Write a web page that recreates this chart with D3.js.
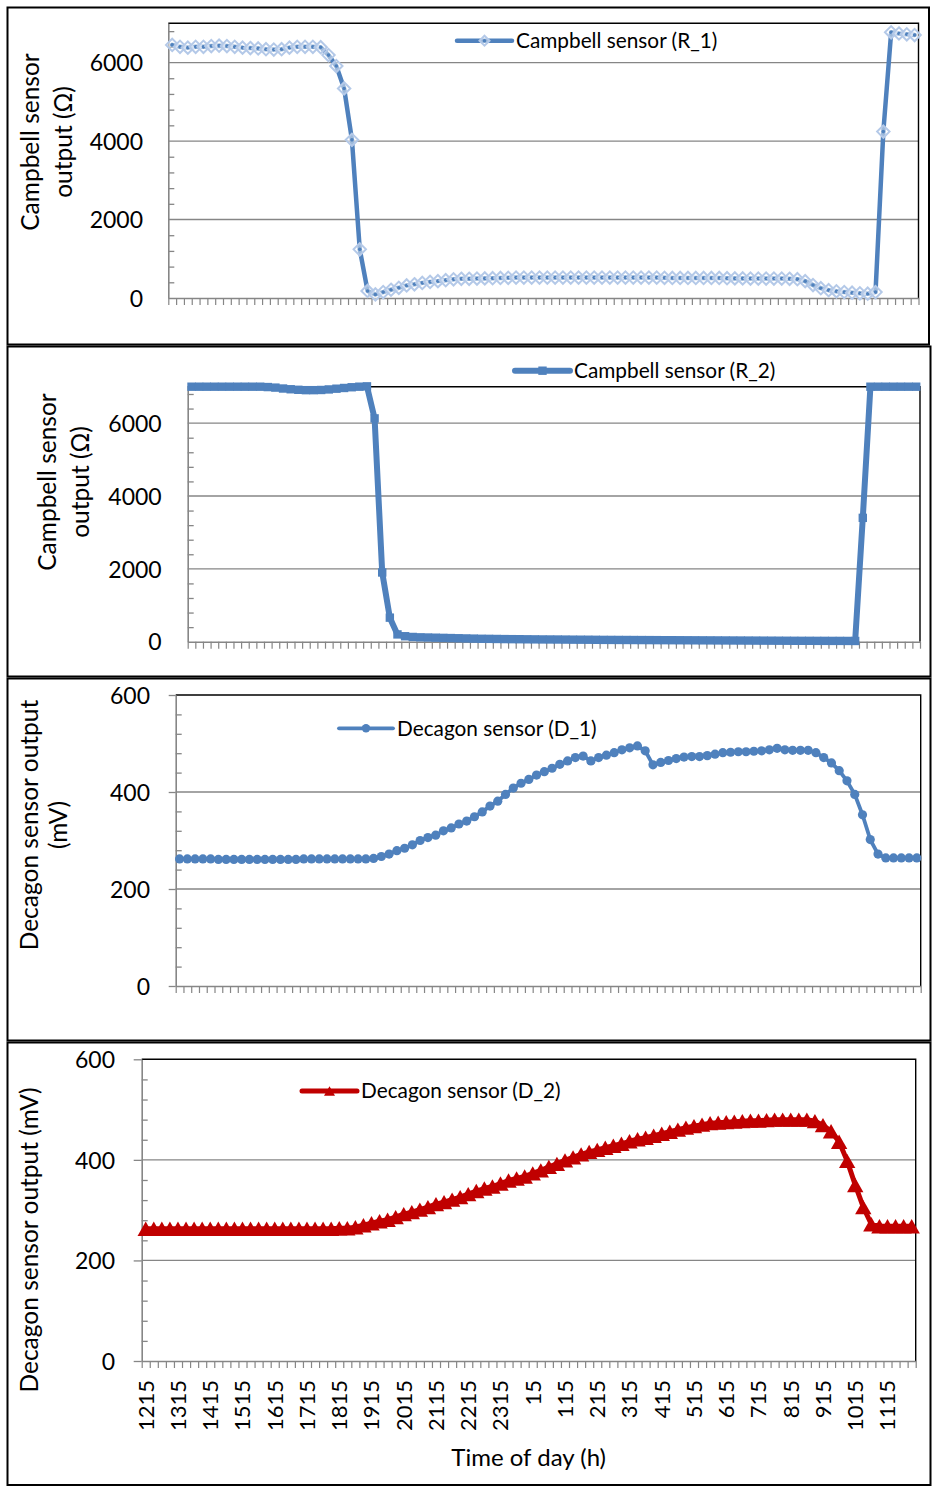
<!DOCTYPE html>
<html><head><meta charset="utf-8">
<script src="https://cdn.jsdelivr.net/npm/d3@7"></script>
<style>
body{margin:0;background:#fff}
svg text{font-family:Lato,"Open Sans",sans-serif;fill:#000}
</style>
</head><body>
<svg id="chart" width="933" height="1487"></svg>
<script>
// ---------- DATA ----------
const times = ["1215","1230","1245","1300","1315","1330","1345","1400","1415","1430","1445","1500",
"1515","1530","1545","1600","1615","1630","1645","1700","1715","1730","1745","1800",
"1815","1830","1845","1900","1915","1930","1945","2000","2015","2030","2045","2100",
"2115","2130","2145","2200","2215","2230","2245","2300","2315","2330","2345","0",
"15","30","45","100","115","130","145","200","215","230","245","300",
"315","330","345","400","415","430","445","500","515","530","545","600",
"615","630","645","700","715","730","745","800","815","830","845","900",
"915","930","945","1000","1015","1030","1045","1100","1115","1130","1145","1200"];

const campbellR1 = [6450,6400,6380,6400,6400,6420,6430,6420,6400,6380,6370,6360,6340,6330,6340,6380,6400,6400,6400,6390,
6190,5910,5340,4030,1240,180,90,150,210,260,320,350,385,410,430,455,475,490,490,495,
500,505,510,515,520,520,520,520,520,520,520,520,520,520,520,520,520,520,520,520,
520,520,520,515,510,510,510,510,510,510,510,505,500,500,495,495,495,495,495,490,
480,430,330,250,200,170,150,135,120,110,150,4240,6770,6740,6720,6700];

const campbellR2 = [7000,7000,7000,7000,7000,7000,7000,7000,7000,7000,6990,6975,6950,6930,6915,6905,6905,6910,6925,6945,
6965,6985,7000,7010,6130,1900,660,200,150,130,120,115,110,105,100,95,90,85,80,78,
75,72,70,68,66,64,62,61,60,58,56,55,54,52,50,49,48,47,46,45,
44,43,42,41,40,39,38,37,36,35,34,33,32,31,30,29,28,27,26,25,
24,24,23,23,22,22,21,20,3400,7000,7000,7000,7000,7000,7000,7000];

const decagonD1 = [262,262,262,262,262,261,261,261,261,261,261,261,261,261,261,261,262,262,262,262,
262,262,262,262,262,263,267,272,279,284,291,300,306,311,320,326,334,340,349,359,
371,381,395,408,418,426,435,442,449,457,464,471,474,464,471,476,481,487,491,495,
485,456,461,465,469,472,473,473,475,478,481,482,483,483,484,485,487,490,487,486,
486,486,481,471,460,444,423,395,353,302,272,264,264,264,264,264];

const decagonD2 = [263,263,263,263,263,263,263,263,263,263,263,263,263,263,263,263,263,263,263,263,
263,263,263,263,264,264,266,270,274,278,281,286,292,296,301,306,312,316,321,326,
332,338,343,347,353,359,363,367,373,379,386,392,399,405,411,416,420,424,428,432,
437,441,444,448,452,456,460,464,467,470,473,474,475,476,477,478,478,479,480,480,
480,480,480,477,469,457,436,398,350,306,272,268,268,268,268,268];

const yTicksCampbell = [0,2000,4000,6000];
const yTicksDecagon = [0,200,400,600];
const seriesNames = ["Campbell sensor (R_1)","Campbell sensor (R_2)","Decagon sensor (D_1)","Decagon sensor (D_2)"];
const yTitles = [["Campbell sensor","output (Ω)"],["Campbell sensor","output (Ω)"],["Decagon sensor output","(mV)"],["Decagon sensor output (mV)"]];
const xTitle = "Time of day (h)";

// ---------- LAYOUT ----------
const svg = d3.select("#chart");
const BLUE="#4f81bd", RED="#c00000", GRID="#868686";

const panels = [
 {values:campbellR1, box:[7.5,7.5,929,344.5], plot:{l:168.3,t:23.3,r:918.5,b:298}, yMax:7000, major:yTicksCampbell, minorStep:400,
  majorOut:0, labPad:25.3, titleX:[39,72], titleY:142, leg:{x1:457,x2:512,y:40.7,tx:516}, color:BLUE, lw:4.5, marker:"diamond"},
 {values:campbellR2, box:[7.5,346.5,930.5,676.5], plot:{l:187.7,t:386.7,r:920,b:641.7}, yMax:7000, major:yTicksCampbell, minorStep:400,
  majorOut:0, labPad:26, titleX:[56,89], titleY:482, leg:{x1:515,x2:570,y:370.7,tx:574}, color:BLUE, lw:6, marker:"square"},
 {values:decagonD1, box:[7.5,678.5,930.5,1040.5], plot:{l:175.7,t:695,r:920.7,b:986}, yMax:600, major:yTicksDecagon, minorStep:40,
  majorOut:7, labPad:18.7, titleX:[38,67], titleY:825, leg:{x1:339,x2:393,y:728.3,tx:397}, color:BLUE, lw:3.8, marker:"circle"},
 {values:decagonD2, box:[7.5,1042.5,930.5,1485], plot:{l:141.7,t:1059.3,r:915.7,b:1361}, yMax:600, major:yTicksDecagon, minorStep:40,
  majorOut:8, labPad:18.7, titleX:[37.7], titleY:1240, leg:{x1:302,x2:357,y:1091,tx:361}, color:RED, lw:5, marker:"triangle", xLabels:true}
];

function markerPath(type, s){
  if(type==="diamond") return `M0,${-s}L${s},0L0,${s}L${-s},0Z`;
  if(type==="square") return `M${-s},${-s}H${s}V${s}H${-s}Z`;
  if(type==="triangle") return `M0,${-s*0.875}L${s},${s*0.875}L${-s},${s*0.875}Z`;
  return null;
}
function drawMarker(g, type, x, y, big, color){
  if(type==="circle"){
    g.append("circle").attr("cx",x).attr("cy",y).attr("r",big?4.6:4.2).attr("fill",color);
  } else if(type==="diamond"){
    const s = big?6.2:5;
    g.append("path").attr("d",markerPath("diamond",s)).attr("transform",`translate(${x},${y})`)
      .attr("fill","#fff").attr("fill-opacity",0.45).attr("stroke","#b4c9e8").attr("stroke-width",2);
    g.append("circle").attr("cx",x).attr("cy",y).attr("r",1.8).attr("fill",color);
  } else if(type==="square"){
    g.append("path").attr("d",markerPath("square",4.2)).attr("transform",`translate(${x},${y})`).attr("fill",color);
  } else {
    g.append("path").attr("d",markerPath("triangle",big?8.2:5.5)).attr("transform",`translate(${x},${y})`).attr("fill",color);
  }
}

panels.forEach((p,pi)=>{
  const g = svg.append("g");
  const n = p.values.length;
  const {l,t,r,b} = p.plot;
  const xl = d3.scaleLinear().domain([0,n]).range([l,r]);
  const y = d3.scaleLinear().domain([0,p.yMax]).range([b,t]);

  // outer box
  g.append("rect").attr("x",p.box[0]).attr("y",p.box[1]).attr("width",p.box[2]-p.box[0]).attr("height",p.box[3]-p.box[1])
    .attr("fill","none").attr("stroke","#000").attr("stroke-width",2);

  // gridlines
  g.append("g").selectAll("line").data(p.major.filter(v=>v>0 && v<p.yMax)).join("line")
    .attr("x1",l).attr("x2",r).attr("y1",d=>y(d)).attr("y2",d=>y(d))
    .attr("stroke",GRID).attr("stroke-width",1.3);

  // plot border top/right
  g.append("path").attr("d",`M${l},${y(p.yMax)}H${r}V${b}`).attr("fill","none").attr("stroke","#000").attr("stroke-width",1.4);

  // minor y ticks (inside)
  const minors = d3.range(p.minorStep, p.yMax, p.minorStep).filter(v=>p.major.indexOf(v)<0);
  const minorAxis = g.append("g").attr("transform",`translate(${l},0)`)
    .call(d3.axisRight(y).tickValues(minors).tickSize(6).tickFormat(""));
  minorAxis.select(".domain").remove();
  minorAxis.selectAll("line").attr("stroke",GRID).attr("stroke-width",1.3);

  // major y axis with labels
  const yAxis = g.append("g").attr("transform",`translate(${l},0)`)
    .call(d3.axisLeft(y).tickValues(p.major).tickSize(p.majorOut).tickSizeOuter(0).tickPadding(p.labPad).tickFormat(d3.format("d")));
  yAxis.select(".domain").attr("stroke",GRID).attr("stroke-width",1.6);
  yAxis.selectAll("line").attr("stroke",GRID).attr("stroke-width",1.3);
  yAxis.selectAll("text").attr("font-size",23).attr("font-family","Lato").attr("fill","#000").attr("dy","0.36em");

  // x axis ticks
  const xAxis = g.append("g").attr("transform",`translate(0,${b})`)
    .call(d3.axisBottom(xl).tickValues(d3.range(n+1)).tickSize(7).tickSizeOuter(0).tickFormat(""));
  xAxis.select(".domain").attr("stroke",GRID).attr("stroke-width",1.6);
  xAxis.selectAll("line").attr("stroke",GRID).attr("stroke-width",1.2);

  // y title
  p.titleX.forEach((tx,k)=>{
    g.append("text").attr("transform",`translate(${tx},${p.titleY}) rotate(-90)`)
      .attr("text-anchor","middle").attr("font-size",24.5).text(yTitles[pi][k]);
  });

  // x labels on last panel
  if(p.xLabels){
    g.append("g").selectAll("text").data(d3.range(0,n,4)).join("text")
      .attr("transform",i=>`translate(${xl(i+0.5)},1380) rotate(-90)`)
      .attr("text-anchor","end").attr("dy","0.36em").attr("font-size",22).text(i=>times[i]);
    g.append("text").attr("x",(l+r)/2).attr("y",1457).attr("dy","0.36em").attr("text-anchor","middle")
      .attr("font-size",24).text(xTitle);
  }

  // series line
  const line = d3.line().x((d,i)=>xl(i+0.5)).y(d=>y(d));
  g.append("path").datum(p.values).attr("d",line).attr("fill","none").attr("stroke",p.color)
    .attr("stroke-width",p.lw).attr("stroke-linejoin","round").attr("stroke-linecap","round");
  const mg = g.append("g");
  p.values.forEach((v,i)=>drawMarker(mg,p.marker,xl(i+0.5),y(v),true,p.color));

  // legend
  const lg = p.leg;
  g.append("line").attr("x1",lg.x1).attr("x2",lg.x2).attr("y1",lg.y).attr("y2",lg.y)
    .attr("stroke",p.color).attr("stroke-width",p.lw).attr("stroke-linecap","round");
  drawMarker(g,p.marker,(lg.x1+lg.x2)/2,lg.y,false,p.color);
  g.append("text").attr("x",lg.tx).attr("y",lg.y).attr("dy","0.36em").attr("font-size",20.8).text(seriesNames[pi]);
});
</script>
</body></html>
